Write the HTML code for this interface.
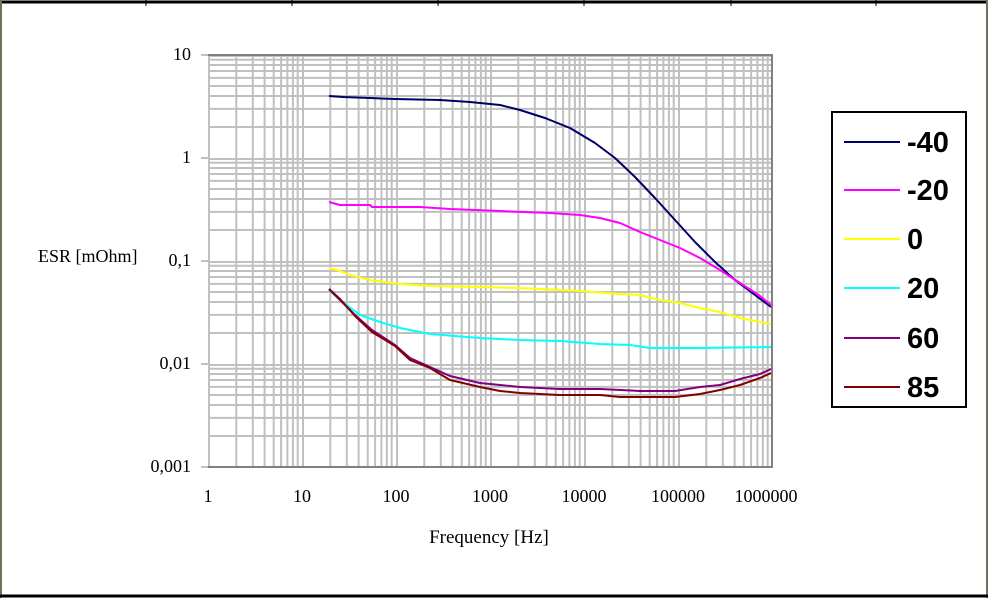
<!DOCTYPE html>
<html><head><meta charset="utf-8"><style>
html,body{margin:0;padding:0;background:#fff}
svg{display:block}
</style></head><body>
<svg width="988" height="598" xmlns="http://www.w3.org/2000/svg">
<defs>
<pattern id="g" x="208" y="55" width="94" height="103" patternUnits="userSpaceOnUse">
<g stroke="#c0c0c0" stroke-width="2" fill="none">
<path d="M1,0V103M28.3,0V103M44.8,0V103M56.6,0V103M65.7,0V103M73.1,0V103M79.4,0V103M84.9,0V103M89.7,0V103"/>
<path d="M0,1H94M0,4.7H94M0,10H94M0,16H94M0,22.9H94M0,31H94M0,41H94M0,53.9H94M0,72H94"/>
</g>
</pattern>
</defs>
<rect x="0" y="0" width="988" height="598" fill="#fff"/>
<line x1="0" y1="2" x2="988" y2="2" stroke="#000" stroke-width="3"/>
<g stroke="#000" stroke-width="1">
<line x1="146" y1="0" x2="146" y2="6"/><line x1="292" y1="0" x2="292" y2="6"/><line x1="438" y1="0" x2="438" y2="6"/><line x1="584" y1="0" x2="584" y2="6"/><line x1="731" y1="0" x2="731" y2="6"/><line x1="876" y1="0" x2="876" y2="6"/>
</g>
<line x1="1" y1="0" x2="1" y2="598" stroke="#707060" stroke-width="2"/>
<line x1="987" y1="0" x2="987" y2="598" stroke="#707060" stroke-width="2"/>
<line x1="0" y1="596" x2="988" y2="596" stroke="#000" stroke-width="3"/>

<rect x="208" y="55" width="564" height="412" fill="url(#g)"/>
<path d="M207,55H772V467H207" fill="none" stroke="#808080" stroke-width="2"/>
<g stroke="#c0c0c0" stroke-width="2">
<line x1="201" y1="55" x2="208" y2="55"/><line x1="201" y1="158" x2="208" y2="158"/><line x1="201" y1="261" x2="208" y2="261"/><line x1="201" y1="364" x2="208" y2="364"/><line x1="201" y1="467" x2="208" y2="467"/>
</g>

<g font-family="Liberation Serif, serif" font-size="18" fill="#000">
<text x="191" y="60" text-anchor="end">10</text>
<text x="191" y="163" text-anchor="end">1</text>
<text x="191" y="266" text-anchor="end">0,1</text>
<text x="191" y="369" text-anchor="end">0,01</text>
<text x="191" y="472" text-anchor="end">0,001</text>
<g text-anchor="middle">
<text x="208" y="502">1</text><text x="302" y="502">10</text><text x="396" y="502">100</text><text x="490" y="502">1000</text><text x="584" y="502">10000</text><text x="678" y="502">100000</text><text x="766" y="502">1000000</text>
</g>
<text x="38" y="262">ESR [mOhm]</text>
<text x="489" y="543" text-anchor="middle" font-size="19">Frequency [Hz]</text>
</g>

<g fill="none" stroke-width="2" stroke-linejoin="round">
<polyline stroke="#000066" points="329,96 343,97 370,98 395,99 440,100 470,102 500,105 520,110 545,118 570,128 595,143 615,158 635,177 655,198 675,220 695,242 715,262 735,280 755,295 771,307"/>
<polyline stroke="#ff00ff" points="329,202 340,205 370,205 372,207 420,207 450,209 500,211 550,213 580,215 600,218 620,223 640,232 660,240 680,248 700,258 720,270 740,283 760,296 771,305"/>
<polyline stroke="#ffff00" points="329,268 340,271 350,275 370,280 400,284 430,286 480,287 520,288 580,291 620,294 640,295 660,300 680,303 700,308 720,312 740,318 760,322 771,324"/>
<polyline stroke="#00ffff" points="329,290 340,300 360,315 380,322 400,328 430,334 480,338 520,340 560,341 600,344 630,345 650,348 700,348 771,347"/>
<polyline stroke="#800080" points="329,289 340,300 355,315 372,330 395,345 410,358 430,367 450,376 480,383 500,385 520,387 560,389 600,389 640,391 675,391 700,387 720,385 740,379 760,374 771,369"/>
<polyline stroke="#800000" points="329,289 340,299 355,316 372,332 395,346 410,360 430,368 450,380 480,387 500,391 520,393 560,395 600,395 620,397 675,397 700,394 720,390 740,385 760,378 771,373"/>
</g>

<rect x="832" y="112" width="134" height="295" fill="#fff" stroke="#000" stroke-width="2"/>
<g stroke-width="2">
<line x1="844" y1="142" x2="900" y2="142" stroke="#000066"/>
<line x1="844" y1="190" x2="900" y2="190" stroke="#ff00ff"/>
<line x1="844" y1="239" x2="900" y2="239" stroke="#ffff00"/>
<line x1="844" y1="288" x2="900" y2="288" stroke="#00ffff"/>
<line x1="844" y1="338" x2="900" y2="338" stroke="#800080"/>
<line x1="844" y1="387" x2="900" y2="387" stroke="#800000"/>
</g>
<g font-family="Liberation Sans, sans-serif" font-size="29" font-weight="bold" fill="#000">
<text x="907" y="152">-40</text>
<text x="907" y="200">-20</text>
<text x="907" y="249">0</text>
<text x="907" y="298">20</text>
<text x="907" y="348">60</text>
<text x="907" y="397">85</text>
</g>
</svg>
</body></html>
